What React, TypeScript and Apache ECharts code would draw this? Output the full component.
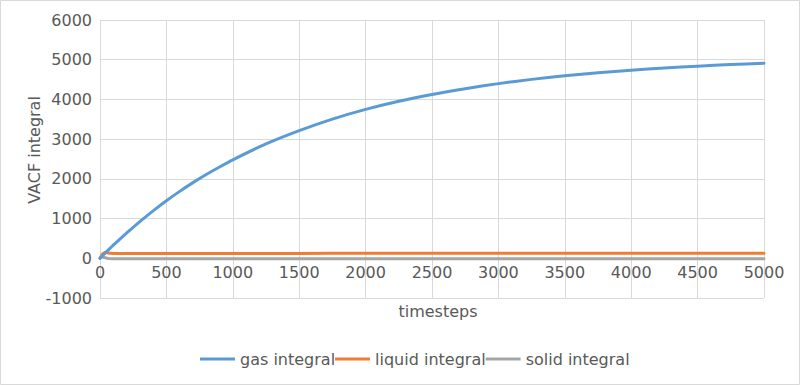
import React, { useEffect, useRef } from "react";
import * as echarts from "echarts";

const timesteps = [0, 10, 20, 40, 60, 100, 150, 200, 300, 400, 500, 600, 700, 800, 900, 1000, 1250, 1500, 1750, 2000, 2250, 2500, 2750, 3000, 3250, 3500, 3750, 4000, 4250, 4500, 4750, 5000];
const gasIntegral = [0, 34, 68, 135, 200, 330, 485, 635, 925, 1195, 1450, 1685, 1905, 2110, 2300, 2480, 2880, 3215, 3505, 3750, 3955, 4125, 4270, 4398, 4505, 4595, 4670, 4735, 4790, 4838, 4878, 4912];
const liquidIntegral = [0, 60, 115, 150, 135, 122, 118, 118, 118, 119, 120, 120, 120, 121, 121, 122, 123, 123, 124, 124, 125, 125, 126, 126, 127, 127, 127, 128, 128, 128, 129, 129];
const solidIntegral = [0, 45, 35, 12, -4, -10, -12, -12, -12, -12, -12, -12, -12, -12, -12, -12, -12, -12, -12, -12, -12, -12, -12, -12, -12, -12, -12, -12, -12, -12, -12, -12];

const seriesNames = ["gas integral", "liquid integral", "solid integral"];
const seriesColors = ["#5b9bd5", "#ed7d31", "#a5a5a5"];
const xTitle = "timesteps";
const yTitle = "VACF integral";

const FONT = "DejaVu Sans";
const TEXT = "#595959";
const GRID = "#d9d9d9";

export default function App() {
  const ref = useRef<HTMLDivElement>(null);
  useEffect(() => {
    if (!ref.current) return;
    const chart = echarts.init(ref.current, null, { renderer: "svg" });
    const seriesData = [gasIntegral, liquidIntegral, solidIntegral].map((vals) =>
      timesteps.map((t, i) => [t, vals[i]])
    );
    chart.setOption({
      animation: false,
      backgroundColor: "#ffffff",
      textStyle: { fontFamily: FONT },
      grid: { left: 100, right: 36, top: 20, bottom: 87 },
      xAxis: {
        type: "value",
        min: 0,
        max: 5000,
        interval: 500,
        offset: -39.7,
        axisLine: { show: true, onZero: false, lineStyle: { color: GRID, width: 1 } },
        axisTick: { show: false },
        axisLabel: {
          color: TEXT,
          fontSize: 16,
          fontFamily: FONT,
          margin: 6,
          formatter: (v: number) => String(v),
        },
        splitLine: { show: true, lineStyle: { color: GRID, width: 1 } },
      },
      yAxis: {
        type: "value",
        min: -1000,
        max: 6000,
        interval: 1000,
        axisLine: { show: false },
        axisTick: { show: false },
        axisLabel: {
          color: TEXT,
          fontSize: 16,
          fontFamily: FONT,
          margin: 8,
          formatter: (v: number) => String(v),
        },
        splitLine: { show: true, lineStyle: { color: GRID, width: 1 } },
      },
      legend: {
        left: 195,
        top: 346,
        itemWidth: 35,
        itemHeight: 3,
        itemGap: 0,
        icon: "rect",
        textStyle: { color: TEXT, fontSize: 16, fontFamily: FONT },
        data: seriesNames,
      },
      series: seriesNames.map((name, i) => ({
        name,
        type: "line",
        data: seriesData[i],
        showSymbol: false,
        smooth: i === 0 ? 0.25 : false,
        color: seriesColors[i],
        lineStyle: { color: seriesColors[i], width: 3, join: "round", cap: "round" },
        z: 3 - i,
      })),
      graphic: [
        {
          type: "rect",
          shape: { x: 0.5, y: 0.5, width: 799, height: 384 },
          style: { fill: "none", stroke: GRID, lineWidth: 1 },
          silent: true,
        },
        {
          type: "text",
          x: 34,
          y: 150,
          rotation: Math.PI / 2,
          style: {
            text: yTitle,
            fill: TEXT,
            font: `16px ${FONT}`,
            align: "center",
            verticalAlign: "middle",
          },
        },
        {
          type: "text",
          x: 438,
          y: 311,
          style: {
            text: xTitle,
            fill: TEXT,
            font: `16px ${FONT}`,
            align: "center",
            verticalAlign: "middle",
          },
        },
      ],
    });
    return () => chart.dispose();
  }, []);
  return (
    <div
      ref={ref}
      style={{ position: "absolute", left: 0, top: 0, width: 800, height: 385 }}
    />
  );
}
